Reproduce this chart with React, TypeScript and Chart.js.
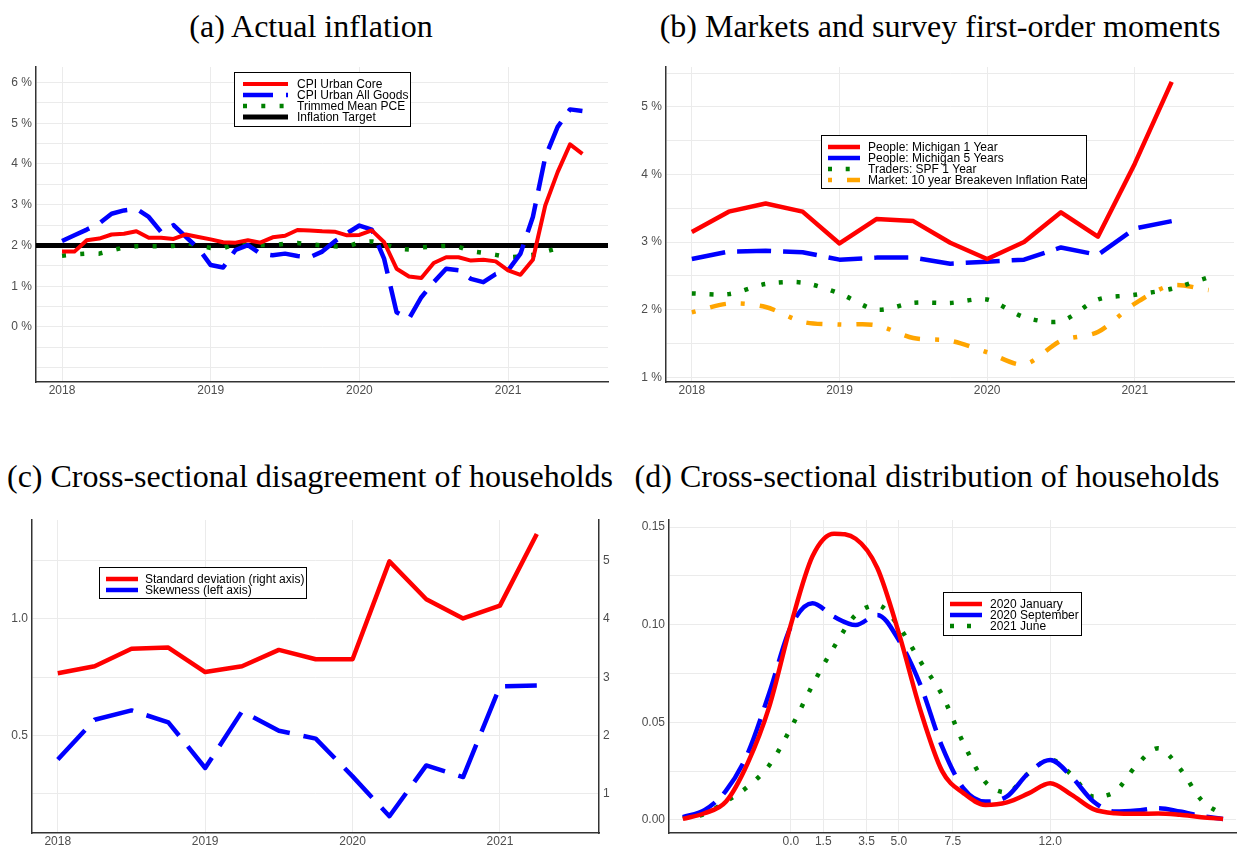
import React, { useEffect, useRef } from "react";
import { Chart, registerables } from "chart.js";

Chart.register(...registerables);

// ---------------- Data ----------------
// Shared year ticks (panels a, b, c)
const yearTicks = [2018, 2019, 2020, 2021];

// Panel (a): monthly, Jan 2018 onwards, year-on-year %
const cpiUrbanCore = [
  1.85, 1.85, 2.13, 2.17, 2.27, 2.29, 2.35, 2.19, 2.19, 2.16, 2.27, 2.21,
  2.15, 2.08, 2.07, 2.13, 2.07, 2.2, 2.24, 2.38, 2.37, 2.35, 2.34, 2.25,
  2.26, 2.37, 2.08, 1.43, 1.24, 1.2, 1.57, 1.71, 1.71, 1.63, 1.65, 1.61,
  1.39, 1.28, 1.65, 2.98, 3.8, 4.48, 4.25,
];
const cpiUrbanAll = [
  2.11, 2.25, 2.39, 2.54, 2.78, 2.86, 2.9, 2.7, 2.33, 2.5, 2.21, 1.93,
  1.52, 1.46, 1.89, 2.01, 1.8, 1.76, 1.8, 1.74, 1.71, 1.85, 2.1, 2.3,
  2.49, 2.39, 1.67, 0.36, 0.2, 0.73, 1.1, 1.43, 1.39, 1.18, 1.1, 1.3,
  1.39, 1.8, 2.7, 4.17, 4.91, 5.34, 5.3,
];
const trimmedMeanPCE = [
  1.75, 1.78, 1.8, 1.8, 1.88, 1.95, 1.98, 1.98, 1.98, 1.99, 2.06, 2.0,
  1.94, 1.93, 2.04, 2.05, 2.01, 2.01, 2.04, 2.06, 2.03, 2.0, 1.98, 1.97,
  2.08, 2.1, 2.04, 1.92, 1.9, 1.95, 1.98, 1.99, 1.97, 1.86, 1.82, 1.77,
  1.71, 1.73, 1.77, 1.85, 1.93,
];
const inflationTarget = 2;

// Panel (b): quarterly
const quartersB = [
  2018, 2018.25, 2018.5, 2018.75, 2019, 2019.25, 2019.5, 2019.75,
  2020, 2020.25, 2020.5, 2020.75, 2021, 2021.25, 2021.5,
];
const michigan1Y = [3.15, 3.45, 3.57, 3.45, 2.98, 3.34, 3.31, 2.99, 2.75, 3.0, 3.44, 3.08, 4.16, 5.37];
const michigan5Y = [2.75, 2.86, 2.87, 2.85, 2.74, 2.77, 2.77, 2.68, 2.71, 2.74, 2.92, 2.81, 3.2, 3.31];
const spf1Y = [2.24, 2.23, 2.38, 2.4, 2.24, 2.0, 2.1, 2.1, 2.15, 1.89, 1.83, 2.15, 2.22, 2.31, 2.48];
const breakeven10Y = [1.96, 2.09, 2.04, 1.82, 1.78, 1.77, 1.58, 1.54, 1.37, 1.19, 1.54, 1.67, 2.09, 2.36, 2.29];

// Panel (c): quarterly
const quartersC = [
  2018, 2018.25, 2018.5, 2018.75, 2019, 2019.25, 2019.5, 2019.75,
  2020, 2020.25, 2020.5, 2020.75, 2021, 2021.25,
];
const stdDevHH = [3.07, 3.19, 3.49, 3.51, 3.09, 3.19, 3.47, 3.31, 3.31, 4.99, 4.34, 4.01, 4.23, 5.46];
const skewHH = [0.396, 0.567, 0.607, 0.556, 0.36, 0.603, 0.52, 0.486, 0.324, 0.153, 0.371, 0.321, 0.71, 0.714];

// Panel (d): density over expected inflation
const inflationGrid = [-5, -4, -3, -2, -1, 0, 1, 2, 3, 4, 5, 6, 7, 8, 9, 10, 11, 12, 13, 14, 15, 16, 17, 18, 19, 20];
const density2020Jan = [
  0.0005, 0.0034, 0.0094, 0.029, 0.058, 0.1, 0.135, 0.1466, 0.144, 0.129, 0.0955, 0.056, 0.025,
  0.0136, 0.0077, 0.009, 0.0136, 0.0188, 0.0128, 0.0055, 0.0034, 0.0031, 0.0033, 0.0026, 0.0014, 0.0005,
];
const density2020Sep = [
  0.0014, 0.005, 0.015, 0.034, 0.065, 0.099, 0.111, 0.104, 0.0998, 0.105, 0.092, 0.069, 0.0375,
  0.016, 0.0094, 0.012, 0.024, 0.0307, 0.022, 0.0094, 0.0043, 0.0048, 0.006, 0.0043, 0.002, 0.0005,
];
const density2021Jun = [
  0.0009, 0.003, 0.0094, 0.017, 0.028, 0.047, 0.069, 0.0886, 0.105, 0.11, 0.099, 0.081, 0.064,
  0.039, 0.0194, 0.0141, 0.0239, 0.031, 0.023, 0.012, 0.0145, 0.028, 0.0367, 0.0264, 0.0102, 0.0026,
];
const distTicks = [0, 1.5, 3.5, 5, 7.5, 12];

// ---------------- Styles ----------------
const RED = "#ff0000";
const BLUE = "#0000ff";
const GREEN = "#008000";
const ORANGE = "#ffa500";
const BLACK = "#000000";
const TICK_FONT = { family: "'Liberation Sans', Arial, sans-serif", size: 12 };
const TICK_COLOR = "#4d4d4d";
const GRID = "#ebebeb";
const AXIS = "#333333";
const YEAR_MIN = 2017.825;
const YEAR_MAX = 2021.672;

const monthX = (i: number) => 2018 + i / 12;

function line(label: string, data: any[], color: string, width: number, dash: number[], extra: any = {}) {
  return {
    label,
    data,
    borderColor: color,
    backgroundColor: color,
    borderWidth: width,
    borderDash: dash,
    borderCapStyle: "butt",
    borderJoinStyle: "round",
    pointRadius: 0,
    pointHoverRadius: 0,
    fill: false,
    tension: 0,
    ...extra,
  };
}

function makeLegend(cfg: any) {
  return {
    id: "boxLegend",
    afterDatasetsDraw(chart: any) {
      const ctx = chart.ctx;
      ctx.save();
      ctx.fillStyle = "#ffffff";
      ctx.fillRect(cfg.x, cfg.y, cfg.w, cfg.h);
      ctx.setLineDash([]);
      ctx.strokeStyle = "#000000";
      ctx.lineWidth = 1;
      ctx.strokeRect(cfg.x + 0.5, cfg.y + 0.5, cfg.w, cfg.h);
      cfg.items.forEach((it: any, i: number) => {
        const yy = cfg.row0 + i * cfg.rowH;
        ctx.beginPath();
        ctx.strokeStyle = it.borderColor;
        ctx.lineWidth = it.borderWidth;
        ctx.lineCap = "butt";
        ctx.setLineDash(it.borderDash || []);
        ctx.moveTo(cfg.lx1, yy);
        ctx.lineTo(cfg.lx2, yy);
        ctx.stroke();
        ctx.setLineDash([]);
        ctx.fillStyle = "#000000";
        ctx.font = "12px 'Liberation Sans', Arial, sans-serif";
        ctx.textBaseline = "middle";
        ctx.textAlign = "left";
        ctx.fillText(it.label, cfg.tx, yy + 0.5);
      });
      ctx.restore();
    },
  };
}

function xLinear(min: number, max: number, ticks: number[], fmt: (v: number) => string, h: number) {
  return {
    type: "linear",
    min,
    max,
    afterBuildTicks: (s: any) => {
      s.ticks = ticks.map((v) => ({ value: v }));
    },
    afterFit: (s: any) => {
      s.height = h;
    },
    ticks: {
      callback: (v: any) => fmt(Number(v)),
      font: TICK_FONT,
      color: TICK_COLOR,
      padding: 1,
      maxRotation: 0,
      autoSkip: false,
    },
    grid: { color: GRID, lineWidth: 1, drawTicks: false },
    border: { display: true, color: AXIS, width: 1.5 },
  };
}

function yLinear(min: number, max: number, step: number, fmt: (v: number) => string, w: number, extra: any = {}) {
  return {
    type: "linear",
    min,
    max,
    afterFit: (s: any) => {
      s.width = w;
    },
    ticks: {
      stepSize: step,
      includeBounds: false,
      autoSkip: false,
      callback: (v: any) => fmt(Number(v)),
      font: TICK_FONT,
      color: TICK_COLOR,
      padding: 4,
    },
    grid: { color: GRID, lineWidth: 1, drawTicks: false },
    border: { display: true, color: AXIS, width: 1.5 },
    ...extra,
  };
}

const isMult = (v: number, m: number) => Math.abs(v / m - Math.round(v / m)) < 1e-6;
const pctFmt = (v: number) => (v >= 0 && isMult(v, 1) ? `${Math.round(v)} %` : "");
const yearFmt = (v: number) => String(v);

function baseOptions(padding: any, scales: any) {
  return {
    animation: false,
    responsive: true,
    maintainAspectRatio: false,
    layout: { padding },
    events: [],
    plugins: { legend: { display: false }, tooltip: { enabled: false }, title: { display: false } },
    scales,
  };
}

// ---------------- Chart configs ----------------
function configA() {
  const dCore = line("CPI Urban Core", cpiUrbanCore.map((v, i) => ({ x: monthX(i), y: v })), RED, 4, [], { order: 1 });
  const dAll = line("CPI Urban All Goods", cpiUrbanAll.map((v, i) => ({ x: monthX(i), y: v })), BLUE, 4.5, [30, 13], { order: 2 });
  const dPce = line("Trimmed Mean PCE", trimmedMeanPCE.map((v, i) => ({ x: monthX(i), y: v })), GREEN, 4.5, [4, 14.3], { order: 3 });
  const dTarget = line(
    "Inflation Target",
    [
      { x: YEAR_MIN, y: inflationTarget },
      { x: YEAR_MAX, y: inflationTarget },
    ],
    BLACK,
    5,
    [],
    { order: 4 }
  );
  return {
    type: "line",
    data: { datasets: [dCore, dAll, dPce, dTarget] },
    options: baseOptions(
      { top: 17, right: 10, left: 0, bottom: 0 },
      {
        x: xLinear(YEAR_MIN, YEAR_MAX, yearTicks, yearFmt, 28),
        y: yLinear(-1.35, 6.38, 0.5, pctFmt, 36),
      }
    ),
    plugins: [
      makeLegend({ x: 234, y: 22, w: 176, h: 54, row0: 34, rowH: 11, lx1: 243, lx2: 288, tx: 297, items: [dCore, dAll, dPce, dTarget] }),
    ],
  };
}

function configB() {
  const d1 = line("People: Michigan 1 Year", michigan1Y.map((v, i) => ({ x: quartersB[i], y: v })), RED, 4.5, []);
  const d5 = line("People: Michigan 5 Years", michigan5Y.map((v, i) => ({ x: quartersB[i], y: v })), BLUE, 4.5, [34, 12]);
  const dSpf = line("Traders: SPF 1 Year", spf1Y.map((v, i) => ({ x: quartersB[i], y: v })), GREEN, 4.5, [4, 13.7], { tension: 0.3 });
  const dBe = line("Market: 10 year Breakeven Inflation Rate", breakeven10Y.map((v, i) => ({ x: quartersB[i], y: v })), ORANGE, 4.5, [4, 15, 16, 15], { tension: 0.3 });
  return {
    type: "line",
    data: { datasets: [d1, d5, dSpf, dBe] },
    options: baseOptions(
      { top: 17, right: 3, left: 0, bottom: 0 },
      {
        x: xLinear(YEAR_MIN, YEAR_MAX, yearTicks, yearFmt, 28),
        y: yLinear(0.93, 5.59, 0.5, pctFmt, 48),
      }
    ),
    plugins: [
      makeLegend({ x: 203, y: 85, w: 265, h: 53, row0: 97, rowH: 11, lx1: 210, lx2: 242, tx: 250, items: [d1, d5, dSpf, dBe] }),
    ],
  };
}

function configC() {
  const dSd = line("Standard deviation (right axis)", stdDevHH.map((v, i) => ({ x: quartersC[i], y: v })), RED, 4.5, [], { yAxisID: "y2" });
  const dSk = line("Skewness (left axis)", skewHH.map((v, i) => ({ x: quartersC[i], y: v })), BLUE, 4.5, [40, 14], { yAxisID: "y" });
  return {
    type: "line",
    data: { datasets: [dSd, dSk] },
    options: baseOptions(
      { top: 25, right: 0, left: 0, bottom: 0 },
      {
        x: xLinear(YEAR_MIN, YEAR_MAX, yearTicks, yearFmt, 13),
        y: yLinear(0.081, 1.424, 0.25, (v) => (isMult(v, 0.5) ? v.toFixed(1) : ""), 32),
        y2: yLinear(0.326, 5.7, 1, (v) => (isMult(v, 1) ? String(Math.round(v)) : ""), 19, {
          position: "right",
          grid: { display: false, drawTicks: false },
        }),
      }
    ),
    plugins: [
      makeLegend({ x: 99, y: 72, w: 207, h: 31, row0: 84, rowH: 11, lx1: 106, lx2: 138, tx: 145, items: [dSd, dSk] }),
    ],
  };
}

function configD() {
  const mono = { cubicInterpolationMode: "monotone" };
  const dJan = line("2020 January", density2020Jan.map((v, i) => ({ x: inflationGrid[i], y: v })), RED, 4.5, [], mono);
  const dSep = line("2020 September", density2020Sep.map((v, i) => ({ x: inflationGrid[i], y: v })), BLUE, 4.5, [36, 12], mono);
  const dJun = line("2021 June", density2021Jun.map((v, i) => ({ x: inflationGrid[i], y: v })), GREEN, 4.5, [4, 13], mono);
  return {
    type: "line",
    data: { datasets: [dJan, dSep, dJun] },
    options: baseOptions(
      { top: 25, right: 1, left: 0, bottom: 0 },
      {
        x: xLinear(-5.64, 20.6, distTicks, (v) => v.toFixed(1), 13),
        y: yLinear(-0.0067, 0.1536, 0.025, (v) => (isMult(v, 0.05) ? v.toFixed(2) : ""), 51),
      }
    ),
    plugins: [
      makeLegend({ x: 325, y: 97, w: 138, h: 43, row0: 109, rowH: 11, lx1: 332, lx2: 364, tx: 372, items: [dJan, dSep, dJun] }),
    ],
  };
}

// ---------------- Components ----------------
function ChartPanel({ box, make }: { box: { left: number; top: number; width: number; height: number }; make: () => any }) {
  const ref = useRef<HTMLCanvasElement>(null);
  useEffect(() => {
    const chart = new Chart(ref.current as HTMLCanvasElement, make());
    return () => chart.destroy();
  }, []);
  return (
    <div style={{ position: "absolute", left: box.left, top: box.top, width: box.width, height: box.height }}>
      <canvas ref={ref} />
    </div>
  );
}

function Title({ text, center, top }: { text: string; center: number; top: number }) {
  return (
    <div
      style={{
        position: "absolute",
        left: center - 400,
        top,
        width: 800,
        textAlign: "center",
        fontFamily: "'Liberation Serif', 'DejaVu Serif', serif",
        fontSize: 32,
        lineHeight: "32px",
        color: "#000",
        whiteSpace: "nowrap",
      }}
    >
      {text}
    </div>
  );
}

export default function App() {
  return (
    <div style={{ position: "absolute", left: 0, top: 0, width: 1237, height: 846, background: "#fff", overflow: "hidden" }}>
      <Title text="(a) Actual inflation" center={311} top={10} />
      <Title text="(b) Markets and survey first-order moments" center={940} top={10} />
      <Title text="(c) Cross-sectional disagreement of households" center={310} top={460} />
      <Title text="(d) Cross-sectional distribution of households" center={927} top={460} />
      <ChartPanel box={{ left: 0, top: 50, width: 618, height: 360 }} make={configA} />
      <ChartPanel box={{ left: 618, top: 50, width: 619, height: 360 }} make={configB} />
      <ChartPanel box={{ left: 0, top: 495, width: 618, height: 351 }} make={configC} />
      <ChartPanel box={{ left: 618, top: 495, width: 619, height: 351 }} make={configD} />
    </div>
  );
}
